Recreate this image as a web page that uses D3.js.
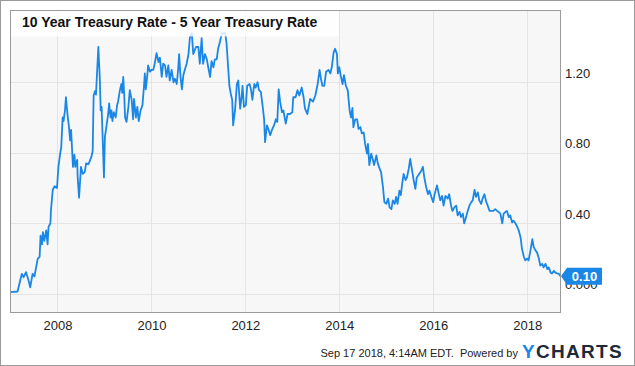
<!DOCTYPE html>
<html>
<head>
<meta charset="utf-8">
<script src="https://cdn.jsdelivr.net/npm/d3@7"></script>
<style>
  html, body { margin: 0; padding: 0; background: #fff; }
  svg { display: block; font-family: "Liberation Sans", Arial, sans-serif; }
</style>
</head>
<body>
<svg id="chart" width="635" height="366"></svg>
<script>
// 10Y minus 5Y treasury spread, weekly-ish points.
const TITLE = '10 Year Treasury Rate - 5 Year Treasury Rate';
const FOOTER = 'Sep 17 2018, 4:14AM EDT.  Powered by';

const years = [
  2007.00, 2007.15, 2007.19, 2007.24, 2007.28, 2007.33, 2007.38, 2007.42, 2007.47, 2007.51,
  2007.58, 2007.62, 2007.64, 2007.67, 2007.69, 2007.72, 2007.76, 2007.79, 2007.81, 2007.85,
  2007.86, 2007.90, 2007.94, 2007.99, 2008.02, 2008.06, 2008.08, 2008.11, 2008.13, 2008.16,
  2008.18, 2008.22, 2008.24, 2008.27, 2008.29, 2008.33, 2008.36, 2008.38, 2008.42, 2008.43,
  2008.46, 2008.50, 2008.54, 2008.58, 2008.61, 2008.66, 2008.72, 2008.75, 2008.77, 2008.80,
  2008.82, 2008.87, 2008.90, 2008.92, 2008.94, 2008.99, 2009.01, 2009.04, 2009.08, 2009.10,
  2009.13, 2009.15, 2009.17, 2009.20, 2009.24, 2009.27, 2009.29, 2009.33, 2009.36, 2009.38,
  2009.40, 2009.42, 2009.44, 2009.47, 2009.51, 2009.54, 2009.58, 2009.61, 2009.63, 2009.67,
  2009.70, 2009.73, 2009.77, 2009.81, 2009.84, 2009.86, 2009.88, 2009.91, 2009.93, 2009.97,
  2010.00, 2010.04, 2010.07, 2010.11, 2010.15, 2010.18, 2010.22, 2010.25, 2010.29, 2010.32,
  2010.36, 2010.39, 2010.43, 2010.47, 2010.50, 2010.54, 2010.57, 2010.59, 2010.62, 2010.65,
  2010.68, 2010.71, 2010.75, 2010.79, 2010.82, 2010.86, 2010.89, 2010.95, 2011.00, 2011.03,
  2011.07, 2011.10, 2011.14, 2011.18, 2011.21, 2011.25, 2011.28, 2011.32, 2011.35, 2011.39,
  2011.42, 2011.46, 2011.50, 2011.53, 2011.57, 2011.60, 2011.64, 2011.66, 2011.69, 2011.72,
  2011.74, 2011.78, 2011.82, 2011.85, 2011.89, 2011.92, 2011.94, 2011.97, 2012.01, 2012.04,
  2012.09, 2012.12, 2012.15, 2012.19, 2012.22, 2012.26, 2012.29, 2012.33, 2012.37, 2012.40,
  2012.42, 2012.46, 2012.49, 2012.53, 2012.56, 2012.61, 2012.65, 2012.68, 2012.71, 2012.74,
  2012.78, 2012.81, 2012.86, 2012.90, 2012.95, 2013.00, 2013.02, 2013.07, 2013.11, 2013.15,
  2013.20, 2013.24, 2013.27, 2013.32, 2013.38, 2013.44, 2013.49, 2013.54, 2013.58, 2013.61,
  2013.64, 2013.68, 2013.72, 2013.77, 2013.81, 2013.84, 2013.88, 2013.91, 2013.95, 2013.97,
  2014.00, 2014.03, 2014.07, 2014.10, 2014.14, 2014.18, 2014.22, 2014.25, 2014.28, 2014.30,
  2014.34, 2014.38, 2014.41, 2014.45, 2014.48, 2014.52, 2014.55, 2014.59, 2014.61, 2014.64,
  2014.68, 2014.72, 2014.74, 2014.79, 2014.82, 2014.86, 2014.89, 2014.93, 2014.96, 2015.00,
  2015.04, 2015.07, 2015.11, 2015.14, 2015.18, 2015.21, 2015.24, 2015.28, 2015.31, 2015.34,
  2015.37, 2015.41, 2015.44, 2015.48, 2015.51, 2015.55, 2015.58, 2015.62, 2015.65, 2015.70,
  2015.75, 2015.78, 2015.81, 2015.85, 2015.89, 2015.92, 2015.96, 2016.00, 2016.03, 2016.08,
  2016.12, 2016.15, 2016.19, 2016.22, 2016.26, 2016.31, 2016.34, 2016.38, 2016.41, 2016.45,
  2016.49, 2016.52, 2016.56, 2016.59, 2016.63, 2016.66, 2016.70, 2016.73, 2016.77, 2016.81,
  2016.84, 2016.88, 2016.91, 2016.95, 2016.98, 2017.02, 2017.05, 2017.09, 2017.13, 2017.16,
  2017.20, 2017.23, 2017.28, 2017.32, 2017.36, 2017.39, 2017.43, 2017.47, 2017.50, 2017.54,
  2017.57, 2017.61, 2017.64, 2017.68, 2017.71, 2017.75, 2017.79, 2017.82, 2017.86, 2017.89,
  2017.93, 2017.96, 2018.00, 2018.03, 2018.07, 2018.11, 2018.14, 2018.18, 2018.21, 2018.25,
  2018.28, 2018.32, 2018.35, 2018.39, 2018.43, 2018.46, 2018.50, 2018.53, 2018.57, 2018.60,
  2018.64, 2018.67, 2018.71,
];

const spread = [
  0.01, 0.013, 0.057, 0.113, 0.094, 0.123, 0.08, 0.037, 0.113, 0.098,
  0.20, 0.21, 0.33, 0.28, 0.35, 0.30, 0.36, 0.28, 0.38, 0.40,
  0.47, 0.59, 0.61, 0.60, 0.72, 0.80, 0.83, 1.00, 0.98, 1.04,
  1.115, 1.00, 0.96, 0.87, 0.93, 0.72, 0.79, 0.72, 0.76, 0.66,
  0.545, 0.72, 0.68, 0.69, 0.74, 0.735, 0.775, 0.81, 1.125, 1.15,
  1.13, 1.40, 1.23, 1.04, 1.06, 0.66, 0.89, 0.945, 1.02, 1.08,
  1.00, 1.04, 0.98, 1.03, 1.00, 1.07, 1.09, 1.155, 1.19, 1.14,
  1.23, 1.135, 1.00, 0.975, 1.06, 1.155, 1.10, 0.99, 1.105, 1.00,
  1.06, 0.98, 1.04, 1.07, 1.17, 1.25, 1.16, 1.23, 1.295, 1.26,
  1.27, 1.27, 1.305, 1.365, 1.315, 1.34, 1.23, 1.305, 1.295, 1.23,
  1.295, 1.21, 1.27, 1.20, 1.22, 1.19, 1.275, 1.36, 1.23, 1.16,
  1.24, 1.27, 1.305, 1.36, 1.455, 1.48, 1.36, 1.40, 1.40, 1.305,
  1.45, 1.305, 1.36, 1.33, 1.285, 1.23, 1.32, 1.285, 1.33, 1.33,
  1.39, 1.43, 1.48, 1.475, 1.48, 1.42, 1.26, 1.18, 1.135, 1.10,
  0.955, 1.04, 1.19, 1.21, 1.05, 1.115, 1.18, 1.06, 1.07, 1.18,
  1.19, 1.16, 1.10, 1.19, 1.17, 1.20, 1.155, 1.145, 1.06, 0.99,
  0.86, 0.955, 0.935, 0.90, 0.925, 0.955, 0.99, 0.975, 1.16, 1.09,
  1.03, 1.04, 0.965, 1.02, 1.02, 1.03, 1.115, 1.115, 1.155, 1.125,
  1.17, 1.115, 1.05, 1.02, 1.105, 1.09, 1.125, 1.19, 1.27, 1.22,
  1.18, 1.18, 1.26, 1.27, 1.25, 1.285, 1.37, 1.39, 1.36, 1.25,
  1.285, 1.24, 1.19, 1.24, 1.18, 1.155, 1.04, 1.00, 1.055, 0.945,
  0.99, 0.99, 0.935, 0.945, 0.91, 0.915, 0.85, 0.795, 0.85, 0.73,
  0.795, 0.755, 0.73, 0.785, 0.74, 0.71, 0.69, 0.605, 0.52, 0.51,
  0.54, 0.49, 0.48, 0.53, 0.51, 0.55, 0.51, 0.585, 0.56, 0.625,
  0.68, 0.645, 0.66, 0.71, 0.765, 0.70, 0.65, 0.595, 0.66, 0.68,
  0.70, 0.72, 0.66, 0.605, 0.565, 0.585, 0.55, 0.52, 0.565, 0.615,
  0.565, 0.53, 0.555, 0.50, 0.555, 0.54, 0.565, 0.50, 0.47, 0.49,
  0.50, 0.445, 0.465, 0.435, 0.455, 0.40, 0.435, 0.465, 0.50, 0.52,
  0.53, 0.59, 0.55, 0.575, 0.53, 0.51, 0.54, 0.565, 0.52, 0.50,
  0.47, 0.47, 0.47, 0.48, 0.47, 0.465, 0.455, 0.40, 0.455, 0.465,
  0.47, 0.435, 0.445, 0.405, 0.415, 0.40, 0.38, 0.36, 0.32, 0.255,
  0.21, 0.19, 0.20, 0.19, 0.245, 0.31, 0.265, 0.245, 0.235, 0.20,
  0.16, 0.17, 0.15, 0.17, 0.14, 0.15, 0.12, 0.115, 0.13, 0.12,
  0.115, 0.115, 0.10,
];

const yTicks = [0, 0.4, 0.8, 1.2];
const yTickLabels = ['0.000', '0.40', '0.80', '1.20'];
const xTicks = [2008, 2010, 2012, 2014, 2016, 2018];
const lastLabel = '0.10';

const LINE_COLOR = '#1a87e6';
const GRID_COLOR = '#e4e4e4';
const BORDER_COLOR = '#9a9a9a';

const width = 635;
const height = 366;
const plot = { left: 10.5, right: 560.5, top: 10.5, bottom: 312.5 };

const svg = d3.select('#chart');

const x = d3.scaleLinear().domain([2007, 2018.71]).range([plot.left, plot.right]);
const y = d3.scaleLinear().domain([-0.106, 1.607]).range([plot.bottom, plot.top]);
const crisp = (v) => Math.round(v) + 0.5;

// outer frame
svg.append('rect')
  .attr('x', 0.5).attr('y', 0.5)
  .attr('width', width - 1).attr('height', height - 1)
  .attr('fill', '#fff').attr('stroke', BORDER_COLOR);

svg.append('rect')
  .attr('x', plot.left).attr('y', plot.top)
  .attr('width', plot.right - plot.left).attr('height', plot.bottom - plot.top)
  .attr('fill', '#f7f7f7');

const grid = svg.append('g').attr('class', 'grid');
grid.selectAll('line.h')
  .data(yTicks)
  .join('line')
  .attr('class', 'h')
  .attr('x1', plot.left).attr('x2', plot.right)
  .attr('y1', (d) => crisp(y(d))).attr('y2', (d) => crisp(y(d)))
  .attr('stroke', GRID_COLOR);
grid.selectAll('line.v')
  .data(xTicks)
  .join('line')
  .attr('class', 'v')
  .attr('y1', plot.top).attr('y2', plot.bottom)
  .attr('x1', (d) => crisp(x(d))).attr('x2', (d) => crisp(x(d)))
  .attr('stroke', GRID_COLOR);

svg.append('clipPath').attr('id', 'plot-clip')
  .append('rect')
  .attr('x', plot.left).attr('y', plot.top)
  .attr('width', plot.right - plot.left).attr('height', plot.bottom - plot.top);

const points = years.map((t, i) => ({ t, v: spread[i] }));
const line = d3.line().x((d) => x(d.t)).y((d) => y(d.v));

svg.append('path')
  .datum(points)
  .attr('clip-path', 'url(#plot-clip)')
  .attr('fill', 'none')
  .attr('stroke', LINE_COLOR)
  .attr('stroke-width', 1.8)
  .attr('stroke-linejoin', 'round')
  .attr('d', line);

// plot frame on top of the line
svg.append('rect')
  .attr('x', plot.left).attr('y', plot.top)
  .attr('width', plot.right - plot.left).attr('height', plot.bottom - plot.top)
  .attr('fill', 'none').attr('stroke', BORDER_COLOR);

// title sits in a translucent white box over the plot
svg.append('rect')
  .attr('x', plot.left + 0.5).attr('y', plot.top + 0.5)
  .attr('width', 328).attr('height', 25.5)
  .attr('fill', '#fff').attr('fill-opacity', 0.82);
svg.append('text')
  .attr('x', 22).attr('y', 27)
  .attr('font-size', 14).attr('font-weight', 'bold').attr('fill', '#111')
  .text(TITLE);

// axes: right-hand value labels sit just above their gridline
const xAxis = d3.axisBottom(x).tickValues(xTicks).tickFormat(d3.format('d')).tickSize(0).tickPadding(0);
svg.append('g')
  .attr('transform', 'translate(0,318)')
  .call(xAxis)
  .call((g) => g.select('.domain').remove())
  .call((g) => g.selectAll('text')
    .attr('dy', null).attr('y', 12)
    .attr('font-family', '"Liberation Sans", Arial, sans-serif')
    .attr('font-size', 13).attr('fill', '#222'));

const yAxis = d3.axisRight(y).tickValues(yTicks).tickFormat((d, i) => yTickLabels[i]).tickSize(0).tickPadding(0);
svg.append('g')
  .attr('transform', `translate(565,0)`)
  .call(yAxis)
  .call((g) => g.select('.domain').remove())
  .call((g) => g.selectAll('text')
    .attr('dy', null).attr('x', 0).attr('y', -5)
    .attr('font-family', '"Liberation Sans", Arial, sans-serif')
    .attr('font-size', 13).attr('fill', '#222'));

// last-value badge (covers the 0.000 label, as in the original)
const lastY = y(spread[spread.length - 1]);
const badgeLeft = plot.right + 0.5;
svg.append('path')
  .attr('d', `M${badgeLeft},${lastY} L${badgeLeft + 6},${lastY - 8.5} H602 V${lastY + 8.5} H${badgeLeft + 6} Z`)
  .attr('fill', LINE_COLOR);
svg.append('text')
  .attr('x', 584.5).attr('y', lastY + 4.5)
  .attr('text-anchor', 'middle')
  .attr('font-size', 13).attr('font-weight', 'bold').attr('fill', '#fff')
  .text(lastLabel);

// footer: timestamp right-aligned against the logo
svg.append('text')
  .attr('x', 518).attr('y', 357)
  .attr('text-anchor', 'end')
  .attr('font-size', 11).attr('fill', '#222')
  .attr('xml:space', 'preserve')
  .style('white-space', 'pre')
  .text(FOOTER);

const logo = svg.append('text')
  .attr('x', 623).attr('y', 357.5)
  .attr('text-anchor', 'end')
  .attr('font-size', 19).attr('font-weight', 'bold')
  .attr('letter-spacing', 1.3);
logo.append('tspan').attr('fill', '#1a87e6').text('Y');
logo.append('tspan').attr('fill', '#1c2a3a').text('CHARTS');
</script>
</body>
</html>
